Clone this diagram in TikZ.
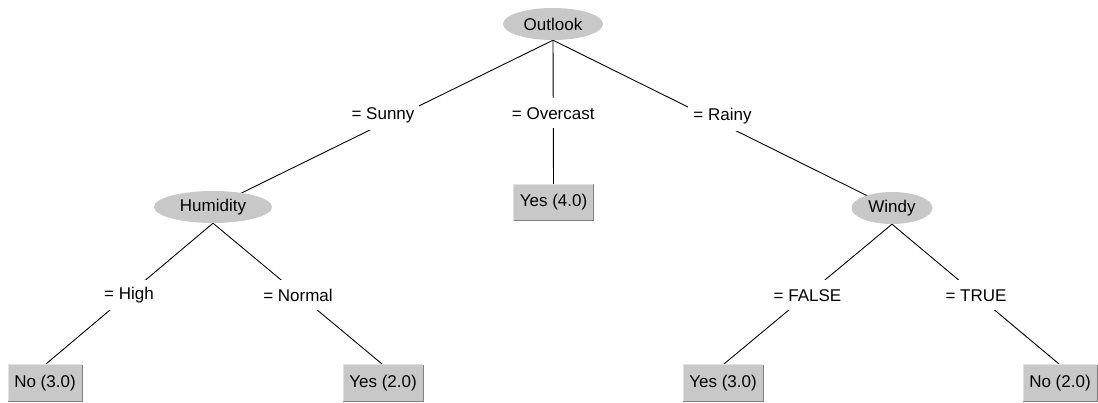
\documentclass[tikz,border=0pt]{standalone}
\usepackage{fontspec}
\setmainfont{Liberation Sans}
\usetikzlibrary{shapes.geometric,calc}
\pgfdeclarelayer{canvasbg}
\pgfdeclarelayer{edges}
\pgfsetlayers{canvasbg,edges,main}
\definecolor{nodegray}{RGB}{200,200,200}
\definecolor{edgedark}{RGB}{128,128,128}
\definecolor{edgelite}{RGB}{225,225,225}
\begin{document}
\begin{tikzpicture}[x=1pt,y=-1pt,
  font=\fontsize{17}{20}\selectfont,
  innernode/.style={ellipse, fill=nodegray, minimum height=32pt, inner sep=0pt},
  leaf/.style={rectangle, fill=nodegray, minimum height=36pt, inner xsep=6pt, inner ysep=0pt},
  lbl/.style={fill=white, inner xsep=5pt, inner ysep=0pt, minimum height=30pt},
  edgeline/.style={draw=black, line width=0.9pt}]
\useasboundingbox (0,0) rectangle (1098,403);
\begin{pgfonlayer}{canvasbg}
\fill[white] (0,0) rectangle (1098,403);
\end{pgfonlayer}

% inner nodes
\node[innernode, minimum width=100pt] (outlook)  at (553,24)  {Outlook};
\node[innernode, minimum width=118pt] (humidity) at (213,207) {Humidity};
\node[innernode, minimum width=81pt]  (windy)    at (892,208) {Windy};

% leaves
\node[leaf] (yes4) at (553.5,202.5) {Yes (4.0)};
\node[leaf] (no3)  at (45,383)   {No (3.0)};
\node[leaf] (yes2) at (383,383)  {Yes (2.0)};
\node[leaf] (yes3) at (723,383)  {Yes (3.0)};
\node[leaf] (no2)  at (1060,383) {No (2.0)};

\foreach \n in {yes4,no3,yes2,yes3,no2}{
  \draw[edgelite, line width=0.8pt] (\n.south west) |- (\n.north east);
  \draw[edgedark, line width=0.8pt] (\n.south west) -| (\n.north east);
}

% connectors
\begin{pgfonlayer}{edges}
\draw[edgeline] (outlook.south) -- (humidity.center);
\draw[edgeline] (outlook.south) -- (yes4.north);
\draw[edgeline] (outlook.south) -- (windy.center);
\draw[edgeline] (humidity.south) -- (no3.north);
\draw[edgeline] (humidity.south) -- (yes2.north);
\draw[edgeline] (windy.south) -- (yes3.north);
\draw[edgeline] (windy.south) -- (no2.north);
\end{pgfonlayer}

% edge labels
\node[lbl] (lsunny)    at ($(outlook.center)!0.5!(humidity.center)$) {= Sunny};
\node[lbl] (lovercast) at ($(outlook.center)!0.5!(yes4.center)$)     {= Overcast};
\node[lbl] (lrainy)    at ($(outlook.center)!0.5!(windy.center)$)    {= Rainy};
\node[lbl] (lhigh)     at ($(humidity.center)!0.5!(no3.center)$)     {= High};
\node[lbl] (lnormal)   at ($(humidity.center)!0.5!(yes2.center)$)    {= Normal};
\node[lbl] (lfalse)    at ($(windy.center)!0.5!(yes3.center)$)       {= FALSE};
\node[lbl] (ltrue)     at ($(windy.center)!0.5!(no2.center)$)        {= TRUE};
\end{tikzpicture}
\end{document}
